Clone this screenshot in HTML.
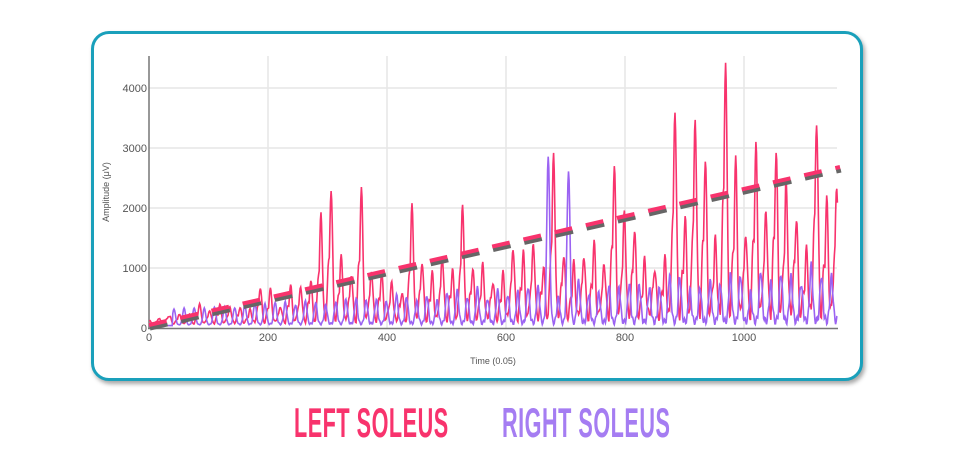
<!DOCTYPE html>
<html><head><meta charset="utf-8"><style>
body{margin:0;width:960px;height:474px;background:#fff;overflow:hidden;position:relative;font-family:"Liberation Sans",sans-serif}
.box{position:absolute;left:91px;top:31px;width:766px;height:344px;border:3px solid #1aa0bb;border-radius:18px;box-shadow:2px 3px 4px rgba(0,0,0,0.35);background:#fff}
.lg{position:absolute;top:402px;font-weight:bold;font-size:42px;line-height:42px;transform-origin:0 0;white-space:nowrap;letter-spacing:1px}
</style></head><body>
<div class="box"></div>
<svg id="s" width="960" height="474" style="position:absolute;left:0;top:0" xmlns="http://www.w3.org/2000/svg" font-family="Liberation Sans, sans-serif"></svg>
<div class="lg" style="left:294px;color:#f8336d;transform:scaleX(0.515)">LEFT SOLEUS</div>
<div class="lg" style="left:502px;color:#a57df2;transform:scaleX(0.515)">RIGHT SOLEUS</div>
<script>
var s=document.getElementById('s');
var X=function(v){return 149+v*0.595;},Y=function(v){return 328-v*0.06;};
var h='';
for(var v=200;v<=1000;v+=200)h+='<line x1="'+X(v)+'" y1="56" x2="'+X(v)+'" y2="328" stroke="#e6e6e6" stroke-width="1.5"/>';
for(var v=1000;v<=4000;v+=1000)h+='<line x1="149" y1="'+Y(v)+'" x2="837" y2="'+Y(v)+'" stroke="#e6e6e6" stroke-width="1.5"/>';
h+='<line x1="149" y1="56" x2="149" y2="329" stroke="#777" stroke-width="1.5"/>';
h+='<line x1="148" y1="328.5" x2="838" y2="328.5" stroke="#777" stroke-width="1.5"/>';
for(var v=0;v<=4000;v+=1000)h+='<text x="147" y="'+(Y(v)+4)+'" font-size="11" fill="#555" text-anchor="end">'+v+'</text>';
for(var v=0;v<=1000;v+=200)h+='<text x="'+X(v)+'" y="341" font-size="11" fill="#555" text-anchor="middle">'+v+'</text>';
h+='<text x="493" y="364" font-size="9" fill="#555" text-anchor="middle">Time (0.05)</text>';
h+='<text transform="translate(109,192) rotate(-90)" font-size="9" fill="#555" text-anchor="middle">Amplitude (μV)</text>';
var seed=11;function r(){seed=(seed*16807)%2147483647;return seed/2147483647;}
var P=17,peaksR=[],peaksP=[];
for(var k=0;k*P<1180;k++){var t=k*P;var base=150+t*1.25;var a=base*(0.6+r()*0.8);if(r()<0.2)a*=1.5;peaksR.push(a);peaksP.push(250+t*0.45*(0.5+r()*0.9));}
function setR(t,v){peaksR[Math.round(t/P)]=v;}
setR(306,2200);setR(360,2200);setR(290,1800);setR(522,1900);setR(450,1900);setR(882,3450);setR(966,4300);setR(1116,3250);setR(918,3250);setR(1026,2800);setR(1060,2700);setR(680,2700);setR(940,2600);setR(780,2500);
peaksP[Math.round(671/P)]=2800;peaksP[Math.round(700/P)]=2550;
var pr='',pp='';
for(var t=0;t<=1157;t+=1){
 var k=Math.round(t/P),d=t-k*P;
 var pk=peaksR[k]||0;
 var g=Math.exp(-d*d/12);
 var sh=Math.exp(-(d+4)*(d+4)/10)*0.45;
 var trough=60+t*0.28*(0.6+0.4*Math.sin(t*0.9));
 var vr=Math.max(pk*g,pk*sh)+trough;
 if(t<60)vr=Math.min(vr,120+t*2);
 var ip=Math.round((t-8)/P),dp=t-8-ip*P;
 var vp=(peaksP[ip]||0)*Math.exp(-dp*dp/12)+50+t*0.12*(0.5+0.5*Math.sin(t*1.3));
 if(t<40)vp=Math.min(vp,40);
 pr+=X(t).toFixed(1)+','+Y(vr).toFixed(1)+' ';pp+=X(t).toFixed(1)+','+Y(vp).toFixed(1)+' ';
}
h+='<polyline points="'+pr+'" fill="none" stroke="#f8336d" stroke-width="1.6"/>';
h+='<polyline points="'+pp+'" fill="none" stroke="#9b63f2" stroke-width="1.6"/>';
h+='<line x1="149" y1="327" x2="840" y2="169" stroke="#666" stroke-width="4" stroke-dasharray="18,14" transform="translate(1,1.5)"/>';
h+='<line x1="149" y1="325" x2="840" y2="167" stroke="#f8336d" stroke-width="4" stroke-dasharray="18,14"/>';
s.innerHTML=h;
</script>
</body></html>
